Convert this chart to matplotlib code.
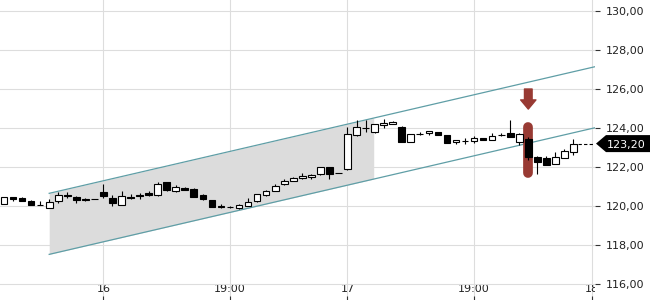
import matplotlib
matplotlib.use("Agg")
import matplotlib.pyplot as plt
from matplotlib.patches import Polygon
from matplotlib.transforms import blended_transform_factory
import numpy as np

# ---- data ----
opens = [120.10, 120.46, 120.40, 120.26, 120.06, 119.91, 120.26, 120.54, 120.48, 120.38,
         120.34, 120.72, 120.39, 120.07, 120.48, 120.56, 120.65, 120.55, 121.23, 120.77,
         120.92, 120.87, 120.56, 120.30, 119.98, 119.94, 119.92, 120.02, 120.24, 120.55,
         120.77, 121.14, 121.30, 121.42, 121.50, 121.64, 122.00, 121.69, 121.88, 123.63,
         123.99, 123.81, 124.14, 124.20, 124.04, 123.30, 123.71, 123.73, 123.80, 123.63,
         123.27, 123.34, 123.33, 123.47, 123.38, 123.64, 123.76, 123.30, 123.42, 122.53,
         122.44, 122.14, 122.44, 122.79]
highs = [120.45, 120.46, 120.45, 120.30, 120.26, 120.34, 120.73, 120.70, 120.53, 120.43,
         120.34, 121.13, 120.56, 120.75, 120.62, 120.65, 120.75, 121.25, 121.23, 121.07,
         120.97, 120.93, 120.60, 120.32, 120.09, 119.98, 120.12, 120.43, 120.62, 120.80,
         121.12, 121.38, 121.50, 121.70, 121.62, 122.02, 122.02, 121.70, 124.05, 124.40,
         124.40, 124.22, 124.45, 124.35, 124.10, 123.70, 123.77, 123.85, 123.82, 123.63,
         123.37, 123.48, 123.58, 123.48, 123.72, 123.72, 124.41, 123.72, 123.55, 122.55,
         122.55, 122.75, 122.90, 123.42]
lows = [120.10, 120.25, 120.26, 120.05, 120.03, 119.91, 120.14, 120.43, 120.14, 120.28,
        120.34, 120.39, 120.00, 120.07, 120.34, 120.37, 120.52, 120.50, 120.75, 120.72,
        120.80, 120.44, 120.30, 119.97, 119.88, 119.88, 119.85, 120.00, 120.20, 120.50,
        120.75, 121.06, 121.28, 121.40, 121.38, 121.60, 121.38, 121.69, 121.85, 123.60,
        123.82, 123.74, 124.00, 124.18, 123.27, 123.30, 123.65, 123.62, 123.64, 123.21,
        123.19, 123.20, 123.24, 123.38, 123.38, 123.58, 123.52, 123.12, 122.36, 121.62,
        122.10, 122.14, 122.44, 122.60]
closes = [120.45, 120.36, 120.26, 120.05, 120.04, 120.22, 120.56, 120.50, 120.31, 120.31,
          120.34, 120.53, 120.14, 120.53, 120.40, 120.50, 120.58, 121.13, 120.82, 120.97,
          120.84, 120.48, 120.34, 119.97, 119.97, 119.93, 120.05, 120.19, 120.60, 120.77,
          121.04, 121.30, 121.42, 121.54, 121.60, 122.00, 121.64, 121.70, 123.68, 124.05,
          123.98, 124.19, 124.27, 124.30, 123.27, 123.68, 123.70, 123.83, 123.66, 123.21,
          123.37, 123.33, 123.49, 123.40, 123.59, 123.63, 123.52, 123.70, 122.53, 122.27,
          122.10, 122.53, 122.83, 123.20]

x_tick_pos = [11, 25, 38, 52, 65]
x_tick_labels = ["16", "19:00", "17", "19:00", "18"]
y_ticks = [116, 118, 120, 122, 124, 126, 128, 130]

channel_x = [5, 66]
channel_upper = [120.65, 127.21]
channel_lower = [117.52, 124.08]
shade_end = 40.9

signal_index = 58
signal_range = [121.42, 124.32]
signal_arrow = [126.0, 124.97]

last_price = 123.20
last_label = "123,20"

# ---- figure ----
W, H = 650, 300
fig = plt.figure(figsize=(W / 100, H / 100), dpi=100)
ax = fig.add_axes([0, 0, 595 / W, 1])

n = len(opens)
xs = np.arange(n)
o = np.array(opens); c = np.array(closes); hi = np.array(highs); lo = np.array(lows)

ax.set_xlim(-0.442, 65.38)
ax.set_ylim(115.18, 130.564)

# shaded channel area
sx = np.array([channel_x[0], shade_end])
slope = (channel_upper[1] - channel_upper[0]) / (channel_x[1] - channel_x[0])
up_s = channel_upper[0] + slope * (sx - channel_x[0])
lo_s = channel_lower[0] + slope * (sx - channel_x[0])
ax.fill_between(sx, lo_s, up_s, color="#dcdcdc", zorder=1, lw=0)

# channel lines
ax.plot(channel_x, channel_upper, color="#5f9ea6", lw=0.9, zorder=2)
ax.plot(channel_x, channel_lower, color="#5f9ea6", lw=0.9, zorder=2)

# signal marker
red = "#983a33"
pt_per_unit = 19.5 * 0.72
lw_pts = 7.0
inset = (lw_pts / 2) / pt_per_unit
ax.plot([signal_index, signal_index], [signal_range[0] + inset, signal_range[1] - inset],
        color=red, lw=lw_pts, solid_capstyle="round", zorder=3)
ax.annotate("", xy=(signal_index, signal_arrow[1]), xytext=(signal_index, signal_arrow[0]),
            arrowprops=dict(arrowstyle="simple,head_length=0.6,head_width=1.0,tail_width=0.5",
                            color=red, shrinkA=0, shrinkB=0, mutation_scale=11),
            zorder=3)

# candles
ax.vlines(xs, lo, hi, color="black", lw=0.8, zorder=4)
up = c >= o
body_bottom = np.minimum(o, c)
body_h = np.maximum(np.abs(c - o), 0.001)
ax.bar(xs, body_h, bottom=body_bottom, width=0.74,
       color=np.where(up, "white", "black"), edgecolor="black", lw=0.8, zorder=5)

# last price dashed line and tag
ax.hlines(last_price, n - 1 + 0.45, 65.38, color="black", lw=0.8,
          linestyles=(0, (3, 2)), zorder=4)
tr = blended_transform_factory(fig.transFigure, ax.transData)
hh = 8.5 / 19.5
poly = Polygon([(596 / W, last_price), (606 / W, last_price + hh), (1.0, last_price + hh),
                (1.0, last_price - hh), (606 / W, last_price - hh)],
               closed=True, transform=tr, facecolor="black", edgecolor="none", clip_on=False)
fig.patches.append(poly)
fig.text(626 / W, last_price, last_label, transform=tr, color="white", fontsize=8,
         ha="center", va="center_baseline")

# axes styling
for s in ax.spines.values():
    s.set_visible(False)
ax.set_axisbelow(True)
ax.grid(True, color="#dddddd", lw=0.8)
ax.yaxis.tick_right()
ax.set_yticks(y_ticks)
ax.set_yticklabels([f"{v:.2f}".replace(".", ",") for v in y_ticks])
ax.tick_params(axis="y", length=3.6, width=0.8, color="#333333", pad=4.5,
               labelsize=8, labelcolor="#222222")
ax.set_xticks(x_tick_pos)
ax.set_xticklabels(x_tick_labels)
ax.tick_params(axis="x", direction="in", length=3, width=0.8, color="#333333",
               pad=-11.5, labelsize=8, labelcolor="#222222")
for lab in ax.get_xticklabels():
    lab.set_clip_on(True)
    lab.set_clip_box(ax.bbox)

fig.savefig("out.png", dpi=100)
